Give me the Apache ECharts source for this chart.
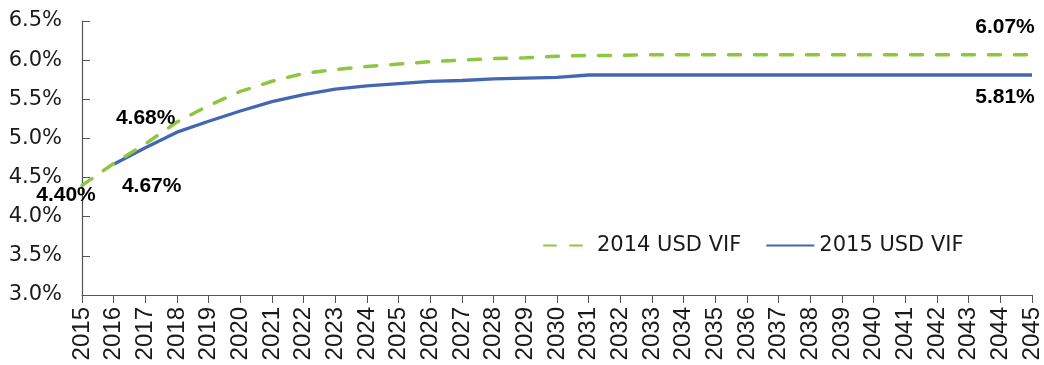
<!DOCTYPE html>
<html>
<head>
<meta charset="utf-8">
<script src="https://cdn.jsdelivr.net/npm/echarts@6/dist/echarts.min.js"></script>
<style>
  html, body { margin: 0; padding: 0; background: #fff; }
  #chart { width: 1044px; height: 365px; }
</style>
</head>
<body>
<div id="chart"></div>
<script>
// Projection years on the horizontal axis
const years = [];
for (let y = 2015; y <= 2045; y++) years.push(String(y));

// Value-in-force rates, percent
const vif2014 = [4.40, 4.68, 4.93, 5.21, 5.42, 5.60, 5.73, 5.83, 5.88, 5.92, 5.95, 5.98, 6.00, 6.02, 6.03, 6.05,
                 6.06, 6.06, 6.07, 6.07, 6.07, 6.07, 6.07, 6.07, 6.07, 6.07, 6.07, 6.07, 6.07, 6.07, 6.07];
const vif2015 = [null, 4.67, 4.88, 5.08, 5.22, 5.35, 5.47, 5.56, 5.63, 5.67, 5.70, 5.73, 5.74, 5.76, 5.77, 5.78,
                 5.81, 5.81, 5.81, 5.81, 5.81, 5.81, 5.81, 5.81, 5.81, 5.81, 5.81, 5.81, 5.81, 5.81, 5.81];

const seriesNames = ['2014 USD VIF', '2015 USD VIF'];

// Y axis range and step, percent
const yMin = 3.0, yMax = 6.5, yStep = 0.5;

// Which points carry a value label, and where the label sits relative to the point
const labels2014 = { 0: [-16, 10], 1: [32, -45], 30: [-27, -27] };
const labels2015 = { 1: [38, 22], 30: [-27, 22] };

const labelFont = { fontFamily: 'Liberation Sans, Arial, sans-serif', fontWeight: 'bold', fontSize: 21, color: '#000' };

function buildData(values, labelMap) {
  return values.map((v, i) => {
    if (labelMap[i] === undefined || v === null) return v;
    return {
      value: v,
      symbol: 'circle',
      symbolSize: 0,
      label: Object.assign({
        show: true,
        position: 'inside',
        offset: labelMap[i],
        align: 'center',
        verticalAlign: 'middle',
        formatter: p => p.value.toFixed(2) + '%'
      }, labelFont)
    };
  });
}

const chart = echarts.init(document.getElementById('chart'), null, { renderer: 'canvas' });

chart.setOption({
  animation: false,
  backgroundColor: '#fff',
  grid: { left: 82, right: 9, top: 21, bottom: 70, containLabel: false },
  legend: {
    left: 538,
    top: 230,
    itemWidth: 48,
    itemHeight: 20,
    itemGap: 24,
    itemStyle: { opacity: 0 },
    textStyle: { fontFamily: 'DejaVu Sans, sans-serif', fontSize: 21, color: '#1a1a1a' },
    data: seriesNames
  },
  xAxis: {
    type: 'category',
    data: years,
    boundaryGap: false,
    axisLine: { lineStyle: { color: '#555', width: 1.2 } },
    axisTick: { show: true, inside: false, length: 8, lineStyle: { color: '#555' } },
    axisLabel: {
      rotate: 90,
      interval: 0,
      margin: 12,
      fontFamily: 'Liberation Sans, Arial, sans-serif',
      fontSize: 24,
      color: '#1a1a1a'
    },
    splitLine: { show: false }
  },
  yAxis: {
    type: 'value',
    min: yMin,
    max: yMax,
    interval: yStep,
    axisLine: { show: true, lineStyle: { color: '#555', width: 1.2 } },
    axisTick: { show: true, inside: true, length: 8, lineStyle: { color: '#555' } },
    axisLabel: {
      margin: 20,
      fontFamily: 'DejaVu Sans, sans-serif',
      fontSize: 21,
      color: '#1a1a1a',
      formatter: v => v.toFixed(1) + '%'
    },
    splitLine: { show: false }
  },
  series: [
    {
      name: seriesNames[0],
      type: 'line',
      data: buildData(vif2014, labels2014),
      color: '#8DC63F',
      symbol: 'none',
      showSymbol: true,
      showAllSymbol: true,
      lineStyle: { color: '#8DC63F', width: 3.5, type: [12, 14], cap: 'round' },
      z: 3
    },
    {
      name: seriesNames[1],
      type: 'line',
      data: buildData(vif2015, labels2015),
      color: '#4467B2',
      symbol: 'none',
      showSymbol: true,
      showAllSymbol: true,
      lineStyle: { color: '#4467B2', width: 3.3 },
      z: 2
    }
  ]
});
</script>
</body>
</html>
